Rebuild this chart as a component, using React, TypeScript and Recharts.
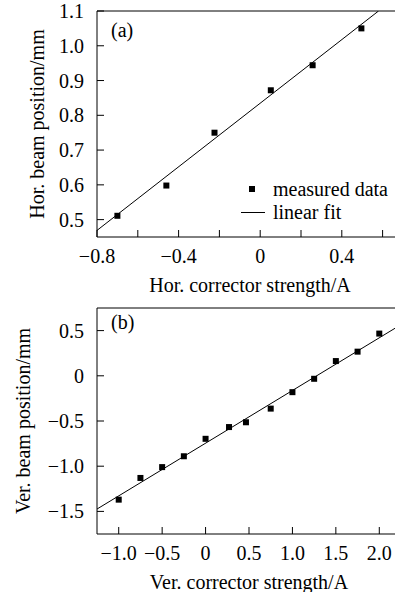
import { ComposedChart, Scatter, XAxis, YAxis, ReferenceLine } from 'recharts';

// panel (a): horizontal corrector
const horStrength = [-0.7, -0.46, -0.224, 0.052, 0.257, 0.496];
const horPosition = [0.511, 0.598, 0.75, 0.872, 0.944, 1.05];
const horFitX = [-0.8, 0.58];
const horFitY = [0.469, 1.1];
const horXTicks = [-0.8, -0.6, -0.4, -0.2, 0, 0.2, 0.4, 0.6];
const horYTicks = [0.5, 0.6, 0.7, 0.8, 0.9, 1.0, 1.1];

// panel (b): vertical corrector
const verStrength = [-1.0, -0.75, -0.5, -0.25, 0, 0.27, 0.465, 0.75, 1.0, 1.25, 1.5, 1.75, 2.0];
const verPosition = [-1.37, -1.13, -1.01, -0.89, -0.697, -0.567, -0.514, -0.363, -0.181, -0.033, 0.163, 0.267, 0.467];
const verFitX = [-1.25, 2.25];
const verFitY = [-1.474, 0.566];
const verXTicks = [-1.0, -0.5, 0, 0.5, 1.0, 1.5, 2.0];
const verYTicks = [-1.5, -1.0, -0.5, 0, 0.5];

const FONT = '"Liberation Serif", "Times New Roman", serif';

const fmt = (v: number) => {
  if (Math.abs(v) < 1e-9) return '0';
  const s = Math.abs(v).toFixed(1);
  return v < 0 ? '\u2212' + s : s;
};

const pts = (xs: number[], ys: number[]) => xs.map((x, i) => ({ x, y: ys[i] }));

const XTick = (props: any) => {
  const { x, y, payload, every } = props;
  const v = payload.value;
  const show = Math.abs(v / every - Math.round(v / every)) < 1e-6;
  return (
    <g>
      <line x1={x} y1={y} x2={x} y2={y - 7} stroke="#000" />
      {show && (
        <text x={x} y={y + 26} textAnchor="middle" fontSize={20} fontFamily={FONT} fill="#000">
          {fmt(v)}
        </text>
      )}
    </g>
  );
};

const YTick = (props: any) => {
  const { x, y, payload } = props;
  return (
    <g>
      <line x1={x} y1={y} x2={x + 7} y2={y} stroke="#000" />
      <text x={x - 13} y={y + 7} textAnchor="end" fontSize={20} fontFamily={FONT} fill="#000">
        {fmt(payload.value)}
      </text>
    </g>
  );
};

const yTitle = (text: string, cx: number) => (props: any) => {
  const vb = props.viewBox;
  const cy = vb.y + vb.height / 2;
  return (
    <text x={cx} y={cy} transform={`rotate(-90 ${cx} ${cy})`} textAnchor="middle" dominantBaseline="central"
      fontSize={20} fontFamily={FONT} fill="#000">
      {text}
    </text>
  );
};

const xTitle = (text: string) => (props: any) => {
  const vb = props.viewBox;
  return (
    <text x={vb.x + vb.width / 2} y={vb.y + 55} textAnchor="middle" fontSize={20} fontFamily={FONT} fill="#000">
      {text}
    </text>
  );
};

const Square = (p: any) => <rect x={p.cx - 3} y={p.cy - 3} width={6} height={6} fill="#000" />;
const NoDot = () => <g />;

interface PanelProps {
  width: number;
  xs: number[];
  ys: number[];
  fitX: number[];
  fitY: number[];
  xDomain: [number, number];
  yDomain: [number, number];
  xTicks: number[];
  yTicks: number[];
  labelEvery: number;
  xLabel: string;
  yLabel: string;
  yLabelX: number;
}

const Panel = (p: PanelProps) => (
  <ComposedChart width={p.width} height={300} margin={{ top: 11, right: 0, bottom: 0, left: 0 }}>
    <XAxis type="number" dataKey="x" height={63} domain={p.xDomain} allowDataOverflow ticks={p.xTicks}
      interval={0} tickSize={0} tickMargin={0} tickLine={false} axisLine={{ stroke: '#000' }}
      tick={<XTick every={p.labelEvery} />} label={xTitle(p.xLabel)} />
    <YAxis type="number" dataKey="y" width={97} domain={p.yDomain} allowDataOverflow ticks={p.yTicks}
      interval={0} tickSize={0} tickMargin={0} tickLine={false} axisLine={{ stroke: '#000' }}
      tick={<YTick />} label={yTitle(p.yLabel, p.yLabelX)} />
    <ReferenceLine y={p.yDomain[1]} stroke="#000" strokeWidth={1} ifOverflow="visible" />
    <Scatter data={pts(p.fitX, p.fitY)} line={{ stroke: '#000', strokeWidth: 1 }} shape={NoDot}
      isAnimationActive={false} />
    <Scatter data={pts(p.xs, p.ys)} shape={Square} isAnimationActive={false} />
  </ComposedChart>
);

const txt = { position: 'absolute' as const, fontFamily: FONT, fontSize: 20, color: '#000', lineHeight: '20px', whiteSpace: 'nowrap' as const };

export default function App() {
  return (
    <div style={{ position: 'absolute', left: 0, top: 0, width: 395, height: 592, overflow: 'hidden', background: '#fff' }}>
      <div style={{ position: 'absolute', left: 0, top: 0 }}>
        <Panel width={403} xs={horStrength} ys={horPosition} fitX={horFitX} fitY={horFitY}
          xDomain={[-0.8, 0.7]} yDomain={[0.45, 1.1]} xTicks={horXTicks} yTicks={horYTicks} labelEvery={0.4}
          xLabel="Hor. corrector strength/A" yLabel="Hor. beam position/mm" yLabelX={37} />
      </div>
      <div style={{ position: 'absolute', left: 0, top: 296.5 }}>
        <Panel width={401} xs={verStrength} ys={verPosition} fitX={verFitX} fitY={verFitY}
          xDomain={[-1.25, 2.25]} yDomain={[-1.75, 0.75]} xTicks={verXTicks} yTicks={verYTicks} labelEvery={0.5}
          xLabel="Ver. corrector strength/A" yLabel="Ver. beam position/mm" yLabelX={23} />
      </div>
      <div style={{ ...txt, left: 111, top: 20 }}>(a)</div>
      <div style={{ ...txt, left: 111, top: 312 }}>(b)</div>
      <div style={{ position: 'absolute', left: 249, top: 186, width: 6, height: 6, background: '#000' }} />
      <div style={{ ...txt, left: 273, top: 179 }}>measured data</div>
      <div style={{ position: 'absolute', left: 241, top: 212, width: 24, height: 1, background: '#000' }} />
      <div style={{ ...txt, left: 273, top: 202 }}>linear fit</div>
    </div>
  );
}
